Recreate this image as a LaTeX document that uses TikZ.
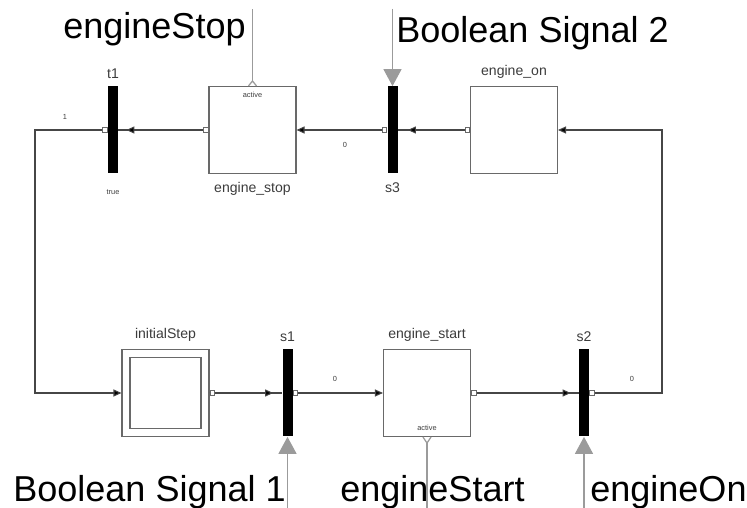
\documentclass[tikz,border=0pt]{standalone}
\usepackage{fontspec}
\setmainfont{Liberation Sans}
\usetikzlibrary{arrows.meta,positioning}
\definecolor{SGline}{RGB}{70,70,70}
\definecolor{SGbox}{RGB}{105,105,105}
\definecolor{SGsig}{RGB}{155,155,155}
\definecolor{SGtext}{RGB}{60,60,60}
\tikzset{
  stepbox/.style={draw=SGbox,line width=0.6pt,minimum size=1.74cm,inner sep=0pt},
  bar/.style={fill=black,minimum width=0.2cm,minimum height=1.74cm,inner sep=0pt},
  lbl/.style={font=\fontsize{8}{9}\selectfont,text=SGtext},
  tinylbl/.style={font=\fontsize{4.2}{5}\selectfont,text=SGtext},
  big/.style={font=\fontsize{20.5}{24}\selectfont,inner sep=0pt,anchor=base west},
  wire/.style={line width=0.6pt,draw=SGline},
  fl/.style={-{Triangle[length=1.6mm,width=1.4mm,fill=black]},line width=0.6pt,draw=SGline},
  sig/.style={-{Triangle[length=3.4mm,width=3.6mm]},line width=0.7pt,draw=SGsig,fill=SGsig},
  sigline/.style={line width=0.7pt,draw=SGsig},
  port/.style={draw=SGbox,fill=white,minimum size=0.9mm,inner sep=0pt,line width=0.4pt},
}
\begin{document}
\begin{tikzpicture}
  \useasboundingbox (0,0) rectangle (14.94,10.16);
  \node[stepbox,label={[lbl,label distance=0.3mm]above:initialStep}] (initStep) at (3.31,2.30) {};
  \node[stepbox,minimum size=1.42cm] (initInner) at (initStep) {};
  \node[bar,label={[lbl,label distance=0.3mm]above:s1}] (s1) at (5.75,2.30) {};
  \node[stepbox,label={[lbl,label distance=0.3mm]above:engine\_start},
        label={[tinylbl,anchor=south,label distance=0pt]south:active}] (engStart) at (8.54,2.30) {};
  \node[bar,label={[lbl,label distance=0.3mm]above:s2}] (s2) at (11.68,2.30) {};
  \node[stepbox,label={[lbl,label distance=0.3mm]above:engine\_on}] (engOn) at (10.28,7.56) {};
  \node[bar,label={[lbl,label distance=0.5mm]below:s3}] (s3) at (7.85,7.56) {};
  \node[stepbox,label={[lbl,label distance=0.5mm]below:engine\_stop},
        label={[tinylbl,anchor=north,label distance=0pt]north:active}] (engStop) at (5.05,7.56) {};
  \node[bar,label={[lbl,label distance=0.3mm]above:t1},
        label={[tinylbl,label distance=2mm]below:true}] (t1) at (2.26,7.56) {};

  \coordinate (lLoop) at (0.70,7.56);
  \coordinate (rLoop) at (13.24,2.30);
  \draw[wire] (initStep.east) -- (s1.west);
  \draw[fl] (initStep.east) -- ([xshift=-1.8mm]s1.west);
  \draw[fl] (s1.east) -- (engStart.west);
  \draw[wire] (engStart.east) -- (s2.west);
  \draw[fl] (engStart.east) -- ([xshift=-1.6mm]s2.west);
  \draw[fl] (s2.east) -- (rLoop) |- (engOn.east);
  \draw[wire] (engOn.west) -- (s3.east);
  \draw[fl] (engOn.west) -- ([xshift=2mm]s3.east);
  \draw[fl] (s3.west) -- (engStop.east);
  \draw[wire] (engStop.west) -- (t1.east);
  \draw[fl] (engStop.west) -- ([xshift=1.6mm]t1.east);
  \draw[fl] (t1.west) -- (lLoop) |- (initStep.west);

  \foreach \n in {initStep,s1,engStart,s2}
    \node[port,anchor=west] (port-\n) at (\n.east) {};
  \foreach \n in {engOn,s3,engStop,t1}
    \node[port,anchor=east] (port-\n) at (\n.west) {};

  \node[tinylbl] (cond1) at (1.30,7.82) {1};
  \node[tinylbl] (cond3) at (6.90,7.26) {0};
  \node[tinylbl] (cond0a) at (6.70,2.58) {0};
  \node[tinylbl] (cond0b) at (12.64,2.58) {0};

  \coordinate (stopAct) at ([yshift=1mm]engStop.north);
  \coordinate (startAct) at ([yshift=-1.2mm]engStart.south);
  \draw[sigline] ([xshift=-0.8mm]engStop.north) -- (stopAct) -- ([xshift=0.8mm]engStop.north);
  \draw[sigline] ([xshift=-0.8mm]engStart.south) -- (startAct) -- ([xshift=0.8mm]engStart.south);
  \coordinate (stopTop) at (5.05,9.98);
  \coordinate (b2Top) at (7.85,9.98);
  \coordinate (b1Bot) at (5.75,0);
  \coordinate (startBot) at (8.54,0);
  \coordinate (onBot) at (11.68,0);
  \draw[sigline] (stopAct) -- (stopTop);
  \draw[sig] (b2Top) -- (s3.north);
  \draw[sig] (b1Bot) -- (s1.south);
  \draw[sigline] (startAct) -- (startBot);
  \draw[sig] (onBot) -- (s2.south);

  \node[big] (txtStop) at (1.26,9.38) {engineStop};
  \node[big] (txtB2) at (7.92,9.30) {Boolean Signal 2};
  \node[big] (txtB1) at (0.26,0.12) {Boolean Signal 1};
  \node[big] (txtStart) at (6.80,0.12) {engineStart};
  \node[big] (txtOn) at (11.80,0.12) {engineOn};
\end{tikzpicture}
\end{document}
